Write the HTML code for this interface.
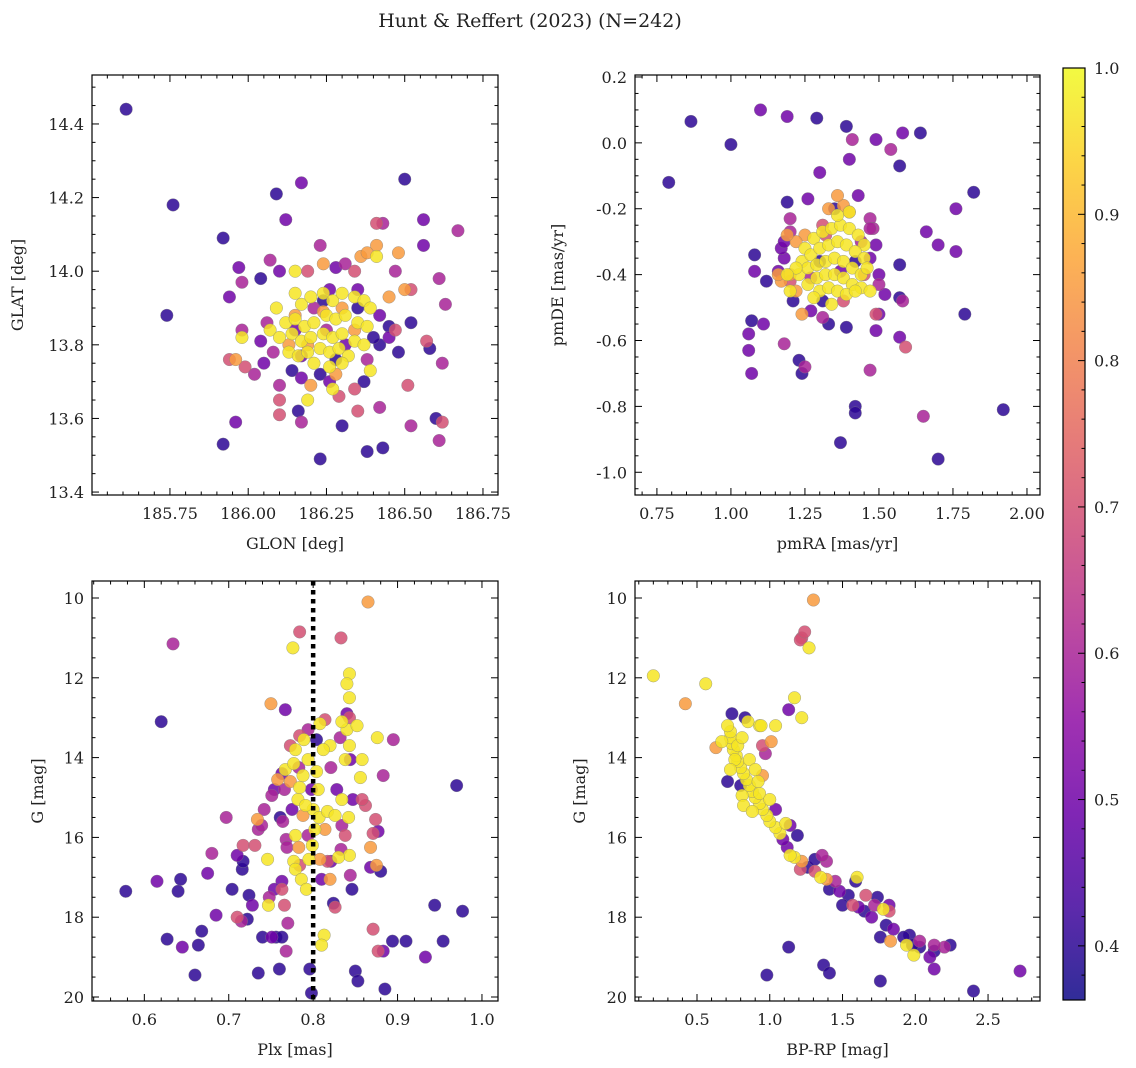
<!DOCTYPE html>
<html><head><meta charset="utf-8">
<style>
html,body{margin:0;padding:0;background:#fff;}
svg{display:block;font-family:"DejaVu Serif","Liberation Serif",serif;}
</style></head>
<body>
<svg id="fig" width="1136" height="1068" viewBox="0 0 1136 1068" xmlns="http://www.w3.org/2000/svg">
<text x="530" y="27" font-size="19" text-anchor="middle" fill="#222">Hunt &amp; Reffert (2023) (N=242)</text>
</svg>
<script>
// ---- Panel 1: GLON vs GLAT ----
const p1x=[185.61,185.76,185.74,185.92,185.97,185.94,185.98,185.98,185.96,185.92,186.04,186.09,186.17,186.12,186.23,186.50,186.56,186.67,186.56,186.43,186.41,186.41,186.63,186.61,186.52,186.57,186.58,186.62,186.51,186.60,186.61,186.62,186.52,186.43,186.38,186.23,186.16,186.17,186.30,186.35,186.42,186.29,186.10,186.10,186.02,185.99,186.05,186.10,186.14,186.17,185.96,185.94,186.04,186.08,186.06,186.07,186.10,186.15,186.19,186.24,186.28,186.31,186.34,186.36,186.38,186.41,186.48,186.47,186.52,186.50,186.45,186.42,186.45,186.47,186.48,186.45,186.42,186.38,186.39,186.37,186.34,186.26,186.23,186.20,186.17,186.13,185.98,186.35,186.26,186.24,186.21,
186.15,186.17,186.20,186.24,186.27,186.30,186.34,186.37,186.39,186.09,186.12,186.15,186.18,186.21,186.25,186.28,186.31,186.35,186.38,186.07,186.10,186.14,186.17,186.20,186.24,186.27,186.30,186.34,186.37,186.13,186.16,186.19,186.23,186.26,186.29,186.32,186.21,186.26,186.30,186.27,186.19,186.24,186.30,186.15,186.34,186.19,186.28,186.25,186.31,186.15,186.35,186.40,186.28];
const p1y=[14.44,14.18,13.88,14.09,14.01,13.93,13.97,13.84,13.59,13.53,13.98,14.21,14.24,14.14,14.07,14.25,14.14,14.11,14.07,14.13,14.13,14.07,13.91,13.98,13.86,13.81,13.79,13.75,13.69,13.60,13.54,13.59,13.58,13.52,13.51,13.49,13.62,13.59,13.58,13.62,13.63,13.66,13.61,13.65,13.72,13.74,13.75,13.69,13.73,13.71,13.76,13.76,13.81,13.78,13.86,14.03,14.00,14.00,14.00,14.02,14.01,14.02,14.00,14.04,14.05,14.04,14.05,14.00,13.95,13.95,13.93,13.88,13.85,13.84,13.78,13.82,13.80,13.76,13.73,13.70,13.68,13.70,13.72,13.69,13.77,13.80,13.82,13.95,13.95,13.92,13.90,
13.94,13.91,13.93,13.94,13.92,13.94,13.93,13.92,13.90,13.90,13.86,13.87,13.85,13.86,13.88,13.87,13.88,13.86,13.85,13.84,13.82,13.83,13.81,13.82,13.83,13.82,13.83,13.81,13.80,13.78,13.77,13.78,13.79,13.78,13.79,13.77,13.75,13.74,13.75,13.68,13.65,13.89,13.90,13.88,13.84,13.80,13.72,13.84,13.80,13.84,13.90,13.82,13.76];
const p1c=[.4,.4,.4,.4,.5,.5,.6,.6,.5,.4,.4,.4,.5,.5,.6,.4,.5,.6,.5,.6,.7,.85,.6,.6,.4,.7,.4,.6,.7,.4,.6,.7,.6,.4,.4,.4,.4,.6,.4,.7,.6,.7,.7,.7,.6,.7,.5,.6,.4,.5,.85,.7,.5,.6,.6,.6,.5,.97,.7,.85,.5,.6,.7,.85,.85,.97,.85,.6,.7,.85,.85,.5,.4,.7,.4,.5,.4,.6,.97,.4,.7,.5,.4,.85,.5,.85,.97,.5,.5,.4,.6,
.97,.97,.97,.97,.97,.97,.97,.97,.97,.97,.97,.97,.97,.97,.97,.97,.97,.97,.97,.97,.97,.97,.97,.97,.97,.97,.97,.97,.97,.97,.97,.97,.97,.97,.97,.97,.97,.97,.97,.97,.97,.85,.85,.85,.85,.85,.85,.6,.5,.5,.4,.4,.4];

// ---- Panel 2: pmRA vs pmDE ----
const p2x=[0.79,0.865,1.0,1.10,1.19,1.29,1.39,1.41,1.49,1.54,1.58,1.64,1.57,1.40,1.30,1.82,1.76,1.66,1.70,1.76,1.79,1.92,1.70,1.65,1.42,1.42,1.37,1.47,1.07,1.06,1.06,1.07,1.11,1.18,1.23,1.24,1.25,1.57,1.59,1.57,1.58,1.57,1.49,1.49,1.33,1.39,1.31,1.27,1.20,1.24,1.08,1.08,1.12,1.16,1.18,1.17,1.18,1.20,1.20,1.19,1.26,1.35,1.43,1.47,1.48,1.49,1.47,1.20,1.21,1.50,1.50,1.52,1.50,1.33,1.38,1.36,1.40,1.31,1.25,1.22,1.17,
1.25,1.28,1.31,1.34,1.37,1.40,1.43,1.45,1.24,1.27,1.30,1.33,1.36,1.39,1.42,1.45,1.23,1.26,1.29,1.32,1.35,1.38,1.41,1.44,1.26,1.29,1.32,1.35,1.38,1.41,1.44,1.47,1.30,1.33,1.36,1.39,1.34,1.28,1.22,1.46,1.40,1.36,1.42,1.19,
1.20,1.16,1.22,1.19,1.45,1.32,1.27,1.37,1.42,1.30,1.44,1.47,1.38,1.31];
const p2y=[-0.12,0.065,-0.005,0.10,0.08,0.075,0.05,0.01,0.01,-0.02,0.03,0.03,-0.07,-0.05,-0.09,-0.15,-0.20,-0.27,-0.31,-0.33,-0.52,-0.81,-0.96,-0.83,-0.80,-0.82,-0.91,-0.69,-0.70,-0.63,-0.58,-0.54,-0.55,-0.61,-0.66,-0.70,-0.68,-0.59,-0.62,-0.47,-0.48,-0.37,-0.57,-0.52,-0.55,-0.56,-0.53,-0.51,-0.45,-0.52,-0.34,-0.39,-0.42,-0.39,-0.35,-0.32,-0.30,-0.27,-0.23,-0.18,-0.17,-0.20,-0.16,-0.23,-0.26,-0.31,-0.35,-0.42,-0.48,-0.40,-0.43,-0.46,-0.52,-0.20,-0.19,-0.16,-0.21,-0.25,-0.28,-0.30,-0.42,
-0.32,-0.29,-0.27,-0.26,-0.25,-0.26,-0.28,-0.31,-0.36,-0.34,-0.32,-0.31,-0.30,-0.31,-0.33,-0.35,-0.40,-0.38,-0.37,-0.36,-0.35,-0.36,-0.38,-0.40,-0.43,-0.41,-0.40,-0.40,-0.41,-0.43,-0.44,-0.45,-0.45,-0.44,-0.45,-0.46,-0.49,-0.47,-0.38,-0.38,-0.21,-0.22,-0.45,-0.40,
-0.40,-0.40,-0.45,-0.28,-0.40,-0.28,-0.41,-0.39,-0.36,-0.36,-0.30,-0.26,-0.48,-0.48];
const p2c=[.4,.4,.4,.5,.5,.4,.4,.6,.5,.6,.5,.4,.4,.5,.5,.4,.5,.5,.5,.5,.4,.4,.4,.6,.4,.4,.4,.6,.5,.5,.5,.4,.5,.6,.4,.4,.6,.5,.7,.4,.6,.4,.5,.7,.4,.4,.6,.5,.97,.85,.4,.5,.4,.5,.5,.5,.5,.6,.6,.4,.5,.4,.5,.6,.6,.5,.5,.7,.4,.5,.6,.5,.5,.85,.85,.85,.85,.7,.85,.85,.85,
.97,.97,.97,.97,.97,.97,.97,.97,.97,.97,.97,.97,.97,.97,.97,.97,.97,.97,.97,.97,.97,.97,.97,.97,.97,.97,.97,.97,.97,.97,.97,.97,.97,.97,.97,.97,.97,.97,.97,.97,.97,.97,.97,.97,
.85,.85,.85,.85,.7,.7,.6,.5,.4,.4,.6,.6,.7,.4];

// ---- Panel 3: Plx vs G ----
const p3x=[0.865,0.784,0.833,0.776,0.843,0.84,0.843,0.75,0.767,0.634,0.62,0.578,0.615,0.643,0.64,0.627,0.645,0.664,0.66,0.668,0.675,0.68,0.685,0.697,0.704,0.71,0.716,0.717,0.71,0.715,0.722,0.717,0.724,0.728,0.734,0.735,0.735,0.74,0.746,0.747,0.748,0.751,0.756,0.763,0.76,0.763,0.767,0.773,0.766,0.764,0.768,0.769,0.766,0.77,0.768,0.763,0.754,0.763,0.779,0.777,0.779,0.783,0.786,0.792,0.788,0.796,0.798,0.813,0.81,0.81,0.808,0.817,0.821,0.824,0.826,0.814,0.834,0.833,0.838,0.843,0.844,0.846,0.85,0.853,0.871,0.877,0.883,0.894,0.885,0.91,0.933,0.944,0.954,0.977,0.97,0.895,0.876,0.868,0.871,0.874,0.883,0.868,0.875,0.88,0.877,0.862,0.847,0.844,0.838,0.843,0.84,0.834,0.84,0.843,0.832,0.852,0.858,0.856,0.834,0.828,0.821,0.82,0.812,0.808,0.814,0.804,0.804,0.806,0.8,0.798,0.794,0.789,0.784,0.779,0.777,0.788,0.784,0.782,0.791,0.775,0.761,0.783,0.794,0.773,0.758,0.754,0.751,0.742,0.739,0.731,0.784,0.795,0.799,0.802,0.807,0.794,0.817,0.826,0.842,0.83,0.82,0.858];
const p3y=[10.1,10.85,11.0,11.25,11.9,12.15,12.5,12.65,12.8,11.15,13.1,17.35,17.1,17.05,17.35,18.55,18.75,18.7,19.45,18.35,16.9,16.4,17.95,15.5,17.3,16.45,16.8,16.2,18.0,18.1,18.05,16.6,17.45,17.7,15.55,15.8,19.4,18.5,16.55,17.7,17.5,18.5,18.5,18.5,19.3,14.4,14.3,14.6,14.8,15.6,16.05,16.25,17.7,18.15,18.85,17.1,17.3,17.3,15.95,16.6,16.8,16.25,17.05,17.3,15.45,19.3,19.9,18.45,18.7,17.05,16.55,16.6,16.6,17.65,17.75,15.8,15.7,16.3,15.95,16.45,16.95,17.3,19.35,19.6,18.3,18.85,18.85,18.6,19.8,18.6,19.0,17.7,18.6,17.85,14.7,13.55,13.5,16.25,15.9,15.55,14.45,16.75,16.7,16.85,15.85,15.2,15.05,14.05,14.05,13.7,13.3,13.1,12.9,13.0,13.5,13.2,14.05,14.5,15.05,14.8,14.25,13.7,13.8,13.15,13.05,13.55,14.35,14.8,15.3,14.8,14.05,13.55,13.45,13.8,14.15,14.45,14.75,15.05,15.2,15.3,15.5,14.25,13.3,13.7,14.55,14.8,14.95,15.3,15.7,16.2,16.7,16.55,16.2,15.8,15.5,15.95,15.35,15.45,15.5,16.5,17.05,15.05];
const p3c=[.85,.7,.7,.97,.97,.97,.97,.85,.5,.6,.4,.4,.5,.4,.4,.4,.5,.4,.4,.4,.5,.6,.5,.6,.4,.5,.4,.7,.7,.6,.4,.4,.4,.5,.85,.6,.4,.4,.97,.97,.6,.5,.4,.4,.4,.5,.97,.85,.6,.6,.6,.6,.7,.6,.6,.5,.5,.7,.97,.97,.97,.85,.97,.97,.85,.4,.4,.97,.97,.5,.85,.7,.5,.4,.7,.85,.6,.6,.7,.97,.6,.4,.4,.4,.7,.7,.5,.4,.4,.4,.5,.4,.4,.4,.4,.6,.97,.85,.7,.7,.6,.5,.85,.4,.5,.7,.5,.5,.97,.97,.97,.97,.5,.7,.6,.97,.97,.97,.97,.5,.6,.97,.97,.97,.7,.4,.97,.97,.97,.5,.97,.97,.7,.97,.97,.97,.97,.97,.97,.5,.4,.6,.6,.7,.85,.5,.6,.6,.6,.7,.7,.97,.97,.97,.97,.6,.97,.97,.97,.97,.85,.7];

// ---- Panel 4: BP-RP vs G ----
const p4x=[0.2,0.42,0.56,1.30,1.22,1.21,1.24,1.27,1.17,1.22,1.13,1.04,1.01,0.95,1.13,0.98,1.37,1.41,1.76,2.40,2.72,2.13,2.13,2.03,1.94,1.96,2.03,2.10,2.20,2.24,2.13,1.92,1.85,1.80,1.83,1.76,1.70,1.72,1.65,1.61,1.57,1.54,1.48,1.45,1.39,1.35,1.31,1.26,1.22,1.21,1.17,1.14,1.12,1.09,1.07,1.04,1.11,1.0,0.98,0.95,0.93,0.90,0.88,0.86,0.84,0.82,0.80,0.78,0.77,0.75,0.74,0.73,0.73,0.71,0.67,0.63,0.85,0.83,0.74,0.93,0.86,0.90,0.92,0.93,0.81,0.82,0.88,0.80,0.78,0.81,0.76,0.73,0.71,1.0,1.04,1.14,1.19,1.31,1.39,1.36,1.60,1.59,1.66,1.74,1.82,1.78,1.82,1.50,1.41,1.98,1.99,0.97,0.95,0.94];
const p4y=[11.95,12.65,12.15,10.05,11.0,11.05,10.85,11.25,12.5,13.0,12.8,13.2,13.6,14.45,18.75,19.45,19.2,19.4,19.6,19.85,19.35,19.3,18.85,18.6,18.7,18.45,18.75,19.0,18.75,18.7,18.7,18.5,18.3,18.2,18.6,18.5,18.0,17.7,17.85,17.75,17.7,17.45,17.35,17.1,17.05,17.0,16.85,16.75,16.6,16.8,16.5,16.45,16.25,16.05,15.9,15.75,15.65,15.6,15.45,15.3,15.15,15.0,14.85,14.7,14.55,14.4,14.25,14.1,13.95,13.8,13.65,13.5,13.35,13.2,13.6,13.75,13.1,13.0,12.9,13.2,14.05,14.3,14.6,14.9,14.95,15.2,15.35,14.7,13.7,13.5,14.05,14.3,14.6,15.05,15.3,15.7,15.95,16.55,16.6,16.45,17.0,17.1,17.45,17.5,17.7,17.8,17.85,17.7,17.3,18.7,18.95,13.9,13.7,13.2];
const p4c=[.97,.85,.97,.85,.7,.7,.7,.97,.97,.97,.5,.97,.85,.85,.4,.4,.4,.4,.4,.4,.5,.5,.4,.6,.97,.4,.4,.5,.6,.4,.6,.4,.5,.4,.85,.4,.5,.6,.4,.5,.7,.4,.5,.6,.85,.97,.7,.4,.85,.7,.97,.97,.5,.5,.97,.97,.97,.97,.97,.97,.97,.97,.97,.97,.97,.97,.97,.97,.97,.97,.97,.97,.97,.97,.97,.85,.97,.4,.4,.97,.97,.97,.97,.97,.97,.97,.97,.4,.97,.97,.97,.97,.4,.97,.5,.5,.4,.4,.6,.6,.97,.4,.7,.4,.5,.97,.7,.4,.4,.4,.97,.6,.7,.97];

// ---- Tick labels ----
const p1xTicks=[185.75,186.00,186.25,186.50,186.75];
const p1yTicks=[13.4,13.6,13.8,14.0,14.2,14.4];
const p2xTicks=[0.75,1.00,1.25,1.50,1.75,2.00];
const p2yTicks=[-1.0,-0.8,-0.6,-0.4,-0.2,0.0,0.2];
const p3xTicks=[0.6,0.7,0.8,0.9,1.0];
const gTicks=[10,12,14,16,18,20];
const p4xTicks=[0.5,1.0,1.5,2.0,2.5];
const cbTicks=[0.4,0.5,0.6,0.7,0.8,0.9,1.0];
const plxLine=[0.8];

const NS="http://www.w3.org/2000/svg";
const svg=document.getElementById('fig');
function mk(tag,attrs,parent){const e=document.createElementNS(NS,tag);for(const k in attrs)e.setAttribute(k,attrs[k]);(parent||svg).appendChild(e);return e;}

const stops=[[13,8,135],[65,4,157],[106,0,168],[143,13,164],[177,42,144],[204,71,120],[225,100,98],[242,132,75],[252,166,54],[252,206,37],[240,249,33]];
function plasma(t){t=Math.max(0,Math.min(1,t));const f=t*10,i=Math.min(9,Math.floor(f)),r=f-i;const a=stops[i],b=stops[i+1];return `rgb(${Math.round(a[0]+(b[0]-a[0])*r)},${Math.round(a[1]+(b[1]-a[1])*r)},${Math.round(a[2]+(b[2]-a[2])*r)})`;}
const VMIN=0.363,VMAX=1.0;
function cmap(c){return plasma((c-VMIN)/(VMAX-VMIN));}

function lin(d0,d1,r0,r1){return v=>r0+(v-d0)/(d1-d0)*(r1-r0);}

function panel(o){
  const g=mk('g',{});
  
  
  const X=lin(o.xd[0],o.xd[1],o.L,o.R);
  const Y=o.inv?lin(o.yd[0],o.yd[1],o.T,o.B):lin(o.yd[0],o.yd[1],o.B,o.T);
  // points
  const idx=o.xs.map((_,i)=>i).sort((a,b)=>o.cs[a]-o.cs[b]);
  const pg=mk('g',{},g);
  
  
  idx.forEach(i=>{
    const c=mk('circle',{cx:X(o.xs[i]),cy:Y(o.ys[i]),r:6.3,fill:cmap(o.cs[i]),'fill-opacity':0.85,stroke:'#808080','stroke-width':0.5,'stroke-opacity':0.7},pg);
    
    
  });
  if(o.vline){o.vline.forEach(v=>{const l=mk('line',{x1:X(v),x2:X(v),y1:o.T,y2:o.B,stroke:'#000','stroke-width':4.5,'stroke-dasharray':'4.5 4.5'},g);
    
    });}
  // frame
  const fr=mk('rect',{x:o.L,y:o.T,width:o.R-o.L,height:o.B-o.T,fill:'none',stroke:'#000','stroke-width':1.2},g);
  
  
  // ticks
  const tg=mk('g',{stroke:'#000','stroke-width':1},g);
  const xmin=Math.min(o.xd[0],o.xd[1]),xmax=Math.max(o.xd[0],o.xd[1]);
  for(let k=Math.ceil(xmin/o.xminor-1e-6);k*o.xminor<=xmax+1e-9;k++){const v=k*o.xminor,px=X(v);const maj=Math.abs(v/o.xmajor-Math.round(v/o.xmajor))<1e-6;const len=maj?7:3.5;
    mk('line',{x1:px,x2:px,y1:o.B,y2:o.B-len},tg);mk('line',{x1:px,x2:px,y1:o.T,y2:o.T+len},tg);}
  const ymin=Math.min(o.yd[0],o.yd[1]),ymax=Math.max(o.yd[0],o.yd[1]);
  for(let k=Math.ceil(ymin/o.yminor-1e-6);k*o.yminor<=ymax+1e-9;k++){const v=k*o.yminor,py=Y(v);const maj=Math.abs(v/o.ymajor-Math.round(v/o.ymajor))<1e-6;const len=maj?7:3.5;
    mk('line',{x1:o.L,x2:o.L+len,y1:py,y2:py},tg);mk('line',{x1:o.R,x2:o.R-len,y1:py,y2:py},tg);}
  o.xt.forEach(v=>{const t=mk('text',{x:X(v),y:o.B+24,'font-size':16,'text-anchor':'middle',fill:'#222'},g);t.textContent=v.toFixed(o.xdec);
    });
  o.yt.forEach(v=>{const t=mk('text',{x:o.L-8,y:Y(v)+6,'font-size':16,'text-anchor':'end',fill:'#222'},g);t.textContent=v.toFixed(o.ydec);
    });
  const xl=mk('text',{x:(o.L+o.R)/2,y:o.B+54,'font-size':16,'text-anchor':'middle',fill:'#222'},g);xl.textContent=o.xlab;
  
  const yc=(o.T+o.B)/2;
  const yl=mk('text',{x:o.ylx,y:yc,'font-size':16,'text-anchor':'middle',fill:'#222',transform:`rotate(-90 ${o.ylx} ${yc})`},g);yl.textContent=o.ylab;
  
}

panel({name:'panel-glon-glat',L:92,R:498,T:75,B:495,xd:[185.501,186.798],yd:[13.392,14.533],xs:p1x,ys:p1y,cs:p1c,xmajor:0.25,xminor:0.05,ymajor:0.2,yminor:0.05,xt:p1xTicks,yt:p1yTicks,xdec:2,ydec:1,xlab:'GLON [deg]',ylab:'GLAT [deg]',ylx:23});
panel({name:'panel-proper-motion',L:635,R:1040,T:75,B:495,xd:[0.676,2.044],yd:[-1.069,0.206],xs:p2x,ys:p2y,cs:p2c,xmajor:0.25,xminor:0.05,ymajor:0.2,yminor:0.05,xt:p2xTicks,yt:p2yTicks,xdec:2,ydec:1,xlab:'pmRA [mas/yr]',ylab:'pmDE [mas/yr]',ylx:563});
panel({name:'panel-parallax-mag',L:92,R:498,T:581,B:1001,xd:[0.538,1.019],yd:[9.574,20.1],inv:true,xs:p3x,ys:p3y,cs:p3c,xmajor:0.1,xminor:0.02,ymajor:2,yminor:0.5,xt:p3xTicks,yt:gTicks,xdec:1,ydec:0,xlab:'Plx [mas]',ylab:'G [mag]',ylx:43,vline:plxLine});
panel({name:'panel-cmd',L:635,R:1040,T:581,B:1001,xd:[0.074,2.857],yd:[9.574,20.1],inv:true,xs:p4x,ys:p4y,cs:p4c,xmajor:0.5,xminor:0.1,ymajor:2,yminor:0.5,xt:p4xTicks,yt:gTicks,xdec:1,ydec:0,xlab:'BP-RP [mag]',ylab:'G [mag]',ylx:585});

// colorbar
(function(){
  const L=1063,R=1085,T=68,B=1000;
  const g=mk('g',{});
  
  
  const defs=mk('defs',{},g);
  const lg=mk('linearGradient',{id:'cbg',x1:0,y1:1,x2:0,y2:0},defs);
  const s0=(VMIN-VMIN)/(VMAX-VMIN);
  for(let i=0;i<=20;i++){const t=i/20;mk('stop',{offset:t,'stop-color':plasma(t)},lg);}
  const r=mk('rect',{x:L,y:T,width:R-L,height:B-T,fill:'url(#cbg)','fill-opacity':0.85},g);
  
  
  mk('rect',{x:L,y:T,width:R-L,height:B-T,fill:'none',stroke:'#000','stroke-width':1.2},g);
  const Y=lin(VMIN,VMAX,B,T);
  for(let k=Math.ceil(VMIN/0.02-1e-6);k*0.02<=VMAX+1e-9;k++){const v=k*0.02;const maj=Math.abs(v*10-Math.round(v*10))<1e-6;const len=maj?7:3.5;
    mk('line',{x1:R,x2:R-len,y1:Y(v),y2:Y(v),stroke:'#000','stroke-width':1},g);}
  cbTicks.forEach(v=>{const t=mk('text',{x:R+9,y:Y(v)+6,'font-size':16,fill:'#222'},g);t.textContent=v.toFixed(1);
    });
})();
</script>
</body></html>
